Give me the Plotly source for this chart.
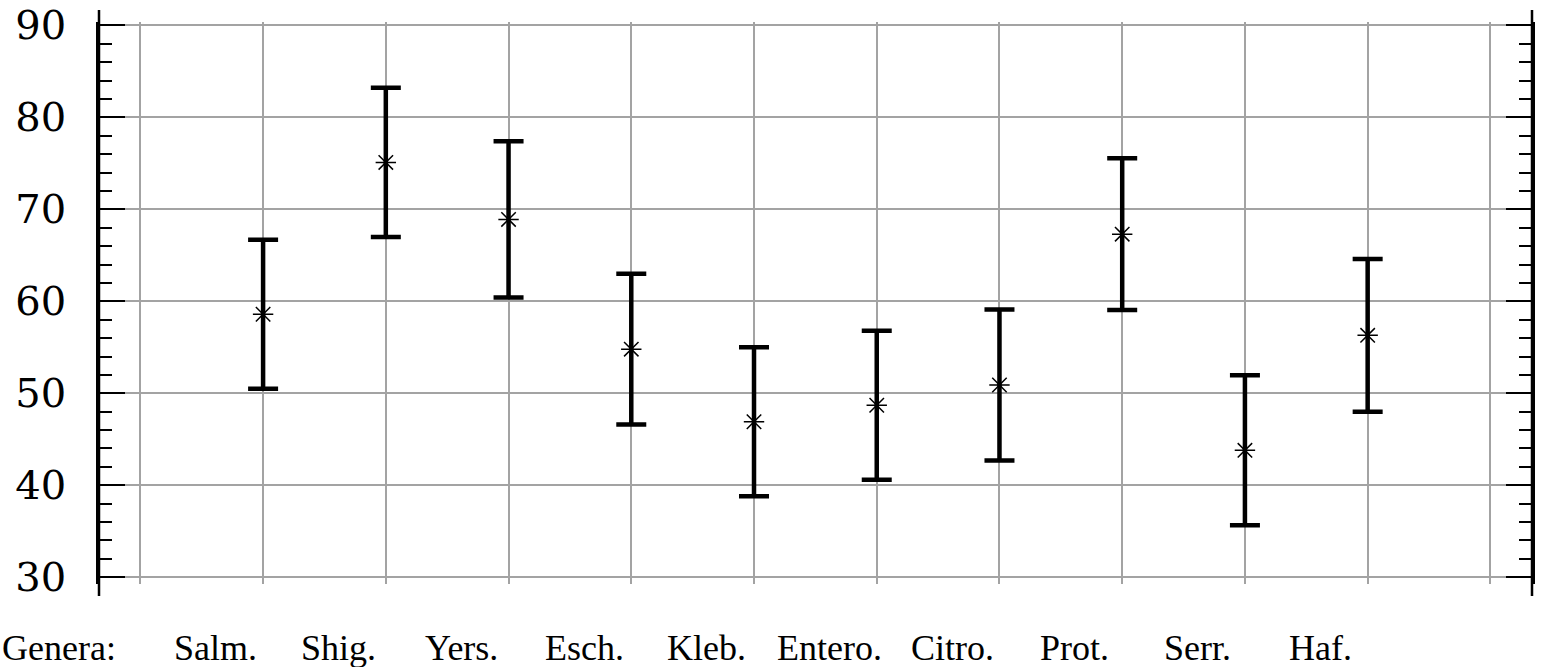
import plotly.graph_objects as go

# Mean value (asterisk) and error half-width for each genus
genera = ["Salm.", "Shig.", "Yers.", "Esch.", "Kleb.", "Entero.", "Citro.", "Prot.", "Serr.", "Haf."]
means = [58.6, 75.1, 68.9, 54.8, 46.9, 48.7, 50.9, 67.3, 43.8, 56.3]
errors = [8.1, 8.1, 8.5, 8.2, 8.1, 8.1, 8.2, 8.25, 8.15, 8.3]
y_ticks = [30, 40, 50, 60, 70, 80, 90]
row_title = "Genera:"

positions = list(range(1, len(genera) + 1))

W, H = 1541, 667
ML, MR, MT, MB = 99, 9, 22, 83
plot_w = W - ML - MR
plot_h = H - MT - MB

fig = go.Figure()
fig.add_trace(go.Scatter(
    x=positions, y=means, mode="markers",
    marker=dict(symbol="asterisk-open", size=17, color="black",
                line=dict(color="black", width=1.5)),
    error_y=dict(type="data", array=errors, visible=True,
                 color="black", thickness=4.5, width=15),
    showlegend=False, hoverinfo="skip",
))

grid_col = "#a3a3a3"
fig.update_xaxes(
    range=[-0.337, len(genera) + 1 + 0.339],
    tickmode="linear", tick0=0, dtick=1,
    showgrid=True, gridcolor=grid_col, gridwidth=2,
    showticklabels=False, ticks="", zeroline=False, showline=False,
    automargin=False,
)
fig.update_yaxes(
    range=[29.27, 90.36],
    tickmode="array", tickvals=y_ticks, ticktext=[str(v) for v in y_ticks],
    showgrid=True, gridcolor=grid_col, gridwidth=2, zeroline=False,
    ticks="inside", ticklen=26, tickwidth=2, tickcolor="black",
    minor=dict(ticks="inside", ticklen=13, tickwidth=2, tickcolor="black",
               tick0=30, dtick=2, showgrid=False),
    showline=True, linecolor="black", linewidth=2.5, mirror="ticks",
    tickfont=dict(family="DejaVu Serif", size=40, color="black"),
    ticklabelstandoff=22,
    automargin=False,
)

# axis spines running slightly past the plotting area
ext = 12 / plot_h
for xp in (0, 1):
    fig.add_shape(type="line", xref="paper", yref="paper",
                  x0=xp, x1=xp, y0=-ext, y1=1 + ext,
                  line=dict(color="black", width=2.5))

label_font = dict(family="Times New Roman, Liberation Serif", size=36, color="black")
label_y = -0.153
fig.add_annotation(text=row_title, xref="paper", yref="paper",
                   x=-ML / plot_w, y=label_y, xanchor="left", yanchor="bottom",
                   showarrow=False, font=label_font)
shift = -0.385
for p, name in zip(positions, genera):
    fig.add_annotation(text=name, xref="x", yref="paper",
                       x=p + shift, y=label_y, xanchor="center", yanchor="bottom",
                       showarrow=False, font=label_font)

fig.update_layout(
    width=W, height=H,
    margin=dict(l=ML, r=MR, t=MT, b=MB),
    paper_bgcolor="white", plot_bgcolor="white",
)

fig.write_html("out.html")
